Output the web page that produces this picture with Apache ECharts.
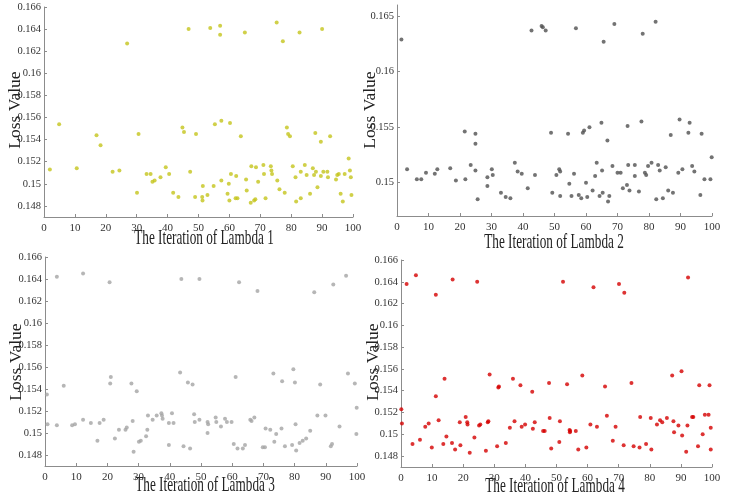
<!DOCTYPE html>
<html><head><meta charset="utf-8">
<script src="https://cdn.jsdelivr.net/npm/echarts@6/dist/echarts.min.js"></script>
<style>html,body{margin:0;padding:0;background:#fff}#c{width:748px;height:496px}</style>
</head><body><div id="c"></div>
<script>
const xTicks = [0,10,20,30,40,50,60,70,80,90,100];
const yTicksA = [0.148,0.15,0.152,0.154,0.156,0.158,0.16,0.162,0.164,0.166];
const yTicksB = [0.15,0.155,0.16,0.165];
const xTitles = ['The Iteration of Lambda 1','The Iteration of Lambda 2','The Iteration of Lambda 3','The Iteration of Lambda 4'];
const yTitle = 'Loss Value';

const lambda1 = [[1.9,0.1513],[4.9,0.1554],[10.6,0.1514],[17.0,0.1544],[18.3,0.1535],[22.2,0.1511],[24.4,0.1512],[26.9,0.1627],[30.1,0.1492],[30.6,0.1545],[33.2,0.1509],[34.5,0.1509],[35.1,0.1502],[35.8,0.1503],[37.7,0.1506],[39.4,0.1515],[40.5,0.1509],[41.8,0.1492],[43.5,0.1488],[44.8,0.1551],[45.3,0.1547],[46.8,0.1640],[47.3,0.1511],[48.9,0.1488],[49.2,0.1545],[51.2,0.1488],[51.3,0.1485],[51.4,0.1498],[52.9,0.1490],[53.8,0.1641],[54.9,0.1498],[55.3,0.1554],[57.0,0.1643],[57.0,0.1635],[57.4,0.1557],[57.4,0.1503],[59.4,0.1491],[59.8,0.1500],[60.0,0.1485],[60.2,0.1555],[60.5,0.1509],[62.0,0.1487],[62.2,0.1507],[62.6,0.1487],[63.7,0.1543],[65.0,0.1637],[65.4,0.1504],[65.6,0.1494],[66.9,0.1483],[67.1,0.1516],[68.0,0.1485],[68.4,0.1486],[68.6,0.1515],[69.3,0.1502],[71.0,0.1517],[71.2,0.1509],[71.7,0.1487],[73.4,0.1516],[73.6,0.1512],[73.8,0.1509],[75.3,0.1646],[75.5,0.1503],[76.2,0.1495],[77.3,0.1629],[77.9,0.1492],[78.6,0.1551],[79.0,0.1545],[79.6,0.1543],[80.5,0.1516],[81.4,0.1506],[81.6,0.1484],[82.7,0.1637],[83.1,0.1511],[83.1,0.1487],[84.4,0.1517],[85.0,0.1508],[86.1,0.1491],[87.0,0.1514],[87.4,0.1508],[87.8,0.1546],[88.0,0.1511],[88.5,0.1497],[89.6,0.1538],[89.6,0.1507],[90.0,0.1640],[90.4,0.1511],[91.7,0.1511],[91.9,0.1506],[92.6,0.1543],[94.5,0.1504],[94.9,0.1508],[95.4,0.1509],[96.0,0.1491],[96.7,0.1484],[97.3,0.1509],[98.6,0.1523],[99.0,0.1512],[99.3,0.1506],[99.5,0.1490]];

const lambda2 = [[1.4,0.1629],[3.2,0.1512],[6.3,0.1503],[7.7,0.1503],[9.2,0.1509],[12.0,0.1508],[12.8,0.1512],[16.9,0.1513],[18.7,0.1502],[21.5,0.1546],[21.7,0.1503],[23.4,0.1516],[24.9,0.1544],[24.9,0.1535],[24.9,0.1511],[25.6,0.1485],[28.7,0.1505],[28.7,0.1497],[30.1,0.1512],[30.4,0.1507],[33.0,0.1491],[34.5,0.1487],[36.0,0.1486],[37.4,0.1518],[38.3,0.1510],[39.6,0.1508],[41.5,0.1495],[42.7,0.1637],[43.8,0.1507],[45.9,0.1641],[46.3,0.1640],[47.2,0.1637],[48.9,0.1545],[49.3,0.1491],[50.6,0.1507],[51.5,0.1512],[51.8,0.1510],[51.8,0.1488],[54.3,0.1544],[54.7,0.1499],[55.4,0.1488],[56.2,0.1508],[56.8,0.1639],[57.7,0.1489],[58.5,0.1486],[59.0,0.1545],[59.4,0.1547],[60.0,0.1500],[60.4,0.1487],[61.1,0.1550],[62.1,0.1493],[62.9,0.1506],[63.4,0.1518],[64.3,0.1488],[64.9,0.1554],[65.1,0.1511],[65.3,0.1491],[65.6,0.1627],[66.8,0.1538],[67.0,0.1483],[67.4,0.1488],[68.4,0.1515],[69.0,0.1643],[70.0,0.1509],[71.0,0.1509],[71.7,0.1495],[73.0,0.1498],[73.2,0.1551],[73.4,0.1516],[73.8,0.1493],[75.5,0.1516],[75.5,0.1506],[76.8,0.1492],[77.6,0.1555],[78.0,0.1634],[78.7,0.1509],[79.1,0.1507],[79.7,0.1515],[80.8,0.1518],[82.1,0.1645],[82.3,0.1485],[82.9,0.1516],[83.4,0.1511],[84.4,0.1486],[85.3,0.1514],[86.1,0.1493],[86.9,0.1543],[87.6,0.1491],[89.3,0.1509],[89.7,0.1557],[90.6,0.1512],[92.5,0.1545],[92.9,0.1554],[93.7,0.1515],[94.4,0.1510],[96.3,0.1489],[96.7,0.1544],[97.6,0.1503],[99.5,0.1503],[99.9,0.1523]];

const lambda3 = [[0.6,0.1535],[0.8,0.1508],[3.8,0.1642],[3.8,0.1507],[6.0,0.1543],[8.7,0.1507],[9.6,0.1508],[12.2,0.1645],[12.2,0.1512],[14.7,0.1509],[16.8,0.1493],[17.5,0.1509],[18.8,0.1512],[20.7,0.1637],[20.9,0.1545],[21.1,0.1551],[22.4,0.1495],[23.7,0.1503],[25.8,0.1503],[26.2,0.1505],[27.7,0.1545],[28.1,0.1511],[28.4,0.1483],[29.4,0.1538],[30.1,0.1492],[30.7,0.1493],[32.4,0.1497],[32.8,0.1503],[33.0,0.1516],[34.5,0.1512],[35.8,0.1516],[37.3,0.1518],[37.5,0.1516],[37.7,0.1513],[39.7,0.1509],[39.7,0.1489],[40.7,0.1518],[41.2,0.1509],[43.3,0.1555],[43.7,0.1640],[44.4,0.1488],[45.8,0.1546],[46.5,0.1486],[47.3,0.1544],[47.8,0.1517],[48.0,0.1510],[49.5,0.1640],[49.5,0.1512],[52.1,0.1510],[52.3,0.1508],[52.1,0.1500],[54.7,0.1514],[54.9,0.1510],[56.4,0.1506],[57.7,0.1513],[58.3,0.1510],[59.8,0.1510],[60.5,0.1490],[61.1,0.1551],[61.7,0.1486],[62.2,0.1637],[63.4,0.1486],[64.1,0.1489],[65.8,0.1512],[66.2,0.1511],[67.1,0.1514],[68.1,0.1629],[69.8,0.1487],[70.5,0.1487],[70.7,0.1504],[72.2,0.1503],[73.2,0.1554],[73.5,0.1492],[74.1,0.1499],[75.8,0.1504],[76.0,0.1547],[76.9,0.1488],[79.2,0.1489],[79.6,0.1558],[80.1,0.1546],[80.3,0.1508],[80.5,0.1484],[81.6,0.1491],[82.6,0.1493],[83.7,0.1495],[85.0,0.1502],[86.3,0.1628],[87.3,0.1516],[88.2,0.1544],[89.9,0.1516],[91.6,0.1488],[92.0,0.1490],[92.4,0.1635],[94.4,0.1506],[96.5,0.1643],[97.1,0.1554],[99.3,0.1545],[99.9,0.1523],[99.8,0.1499]];

const lambda4 = [[0.1,0.1523],[0.3,0.1510],[1.8,0.1638],[3.7,0.1491],[4.8,0.1646],[6.1,0.1495],[7.8,0.1507],[8.9,0.1510],[9.9,0.1488],[11.2,0.1628],[11.2,0.1535],[12.1,0.1513],[13.6,0.1491],[14.0,0.1551],[14.6,0.1498],[16.4,0.1492],[16.6,0.1642],[17.4,0.1486],[18.9,0.1511],[19.1,0.1490],[20.8,0.1516],[21.3,0.1511],[21.4,0.1509],[22.1,0.1483],[23.6,0.1497],[24.5,0.1640],[25.1,0.1508],[25.5,0.1509],[27.3,0.1485],[27.9,0.1511],[28.1,0.1512],[28.5,0.1555],[30.9,0.1489],[31.3,0.1543],[31.5,0.1544],[33.7,0.1492],[35.0,0.1506],[36.0,0.1551],[36.5,0.1512],[38.4,0.1545],[38.8,0.1507],[39.9,0.1509],[42.2,0.1539],[42.4,0.1505],[43.0,0.1511],[45.7,0.1503],[46.2,0.1503],[47.6,0.1547],[47.8,0.1515],[48.3,0.1487],[50.9,0.1493],[51.1,0.1512],[52.1,0.1640],[53.4,0.1546],[54.2,0.1504],[54.3,0.1502],[54.4,0.1503],[56.2,0.1503],[57.0,0.1486],[58.3,0.1554],[59.6,0.1488],[60.9,0.1509],[61.9,0.1635],[63.0,0.1507],[65.6,0.1544],[66.2,0.1517],[68.1,0.1494],[69.0,0.1507],[70.1,0.1638],[71.6,0.1490],[71.8,0.1630],[74.1,0.1547],[74.8,0.1489],[76.7,0.1488],[76.9,0.1516],[78.8,0.1491],[80.3,0.1515],[80.5,0.1486],[82.3,0.1509],[83.3,0.1513],[84.0,0.1511],[85.5,0.1515],[87.2,0.1554],[87.6,0.1512],[87.8,0.1502],[89.2,0.1508],[90.2,0.1558],[90.4,0.1499],[91.7,0.1484],[92.1,0.1508],[92.3,0.1644],[93.6,0.1516],[94.0,0.1516],[95.5,0.1489],[95.9,0.1545],[97.0,0.1500],[97.7,0.1518],[98.9,0.1518],[99.2,0.1545],[99.6,0.1506],[99.6,0.1486]];

const seriesData = [lambda1, lambda2, lambda3, lambda4];
const colors = ['#c4c41c', '#505050', '#a4a4a4', '#d40000'];
const grids = [
  {left: 44, top: 7, width: 309, height: 210},
  {left: 397, top: 5, width: 315, height: 211},
  {left: 45, top: 257, width: 312, height: 209},
  {left: 401, top: 260, width: 311, height: 207}
];
const yTickSets = [yTicksA, yTicksB, yTicksA, yTicksA];
const xTitlePos = [[204, 238], [554, 242], [205, 485], [555, 486]];
const yTitlePos = [[15, 110], [370, 110], [16, 362], [373, 362]];

const FONT = '"Liberation Serif", "Times New Roman", serif';
const axisLineStyle = {color: '#8c8c8c', width: 1};

const option = {
  animation: false,
  backgroundColor: '#fff',
  grid: grids.map(g => Object.assign({containLabel: false}, g)),
  xAxis: grids.map((g, i) => ({
    type: 'value', gridIndex: i, min: 0, max: 100,
    axisLine: {show: true, lineStyle: axisLineStyle},
    axisTick: {show: true, inside: true, length: 3, customValues: xTicks, lineStyle: axisLineStyle},
    axisLabel: {customValues: xTicks, fontFamily: FONT, fontSize: 11, color: '#333', margin: 6},
    splitLine: {show: false}
  })),
  yAxis: grids.map((g, i) => ({
    type: 'value', gridIndex: i, min: 0.147, max: 0.166,
    axisLine: {show: true, lineStyle: axisLineStyle},
    axisTick: {show: true, inside: true, length: 3, customValues: yTickSets[i], lineStyle: axisLineStyle},
    axisLabel: {customValues: yTickSets[i], fontFamily: FONT, fontSize: 10.5, color: '#333', margin: 3},
    splitLine: {show: false}
  })),
  series: seriesData.map((d, i) => ({
    type: 'scatter', xAxisIndex: i, yAxisIndex: i,
    data: d, symbol: 'circle', symbolSize: 4,
    itemStyle: {color: colors[i]}
  })),
  graphic: [].concat(
    xTitles.map((t, i) => ({
      type: 'text', x: xTitlePos[i][0], y: xTitlePos[i][1], scaleX: 0.63,
      style: {text: t, fontFamily: FONT, fontSize: 21, fill: '#222', textAlign: 'center', textVerticalAlign: 'middle'}
    })),
    yTitlePos.map((p) => ({
      type: 'text', x: p[0], y: p[1], rotation: Math.PI / 2,
      style: {text: yTitle, fontFamily: FONT, fontSize: 17.5, fill: '#222', textAlign: 'center', textVerticalAlign: 'middle'}
    }))
  )
};

const chart = echarts.init(document.getElementById('c'), null, {renderer: 'canvas'});
chart.setOption(option);
</script>
</body></html>
